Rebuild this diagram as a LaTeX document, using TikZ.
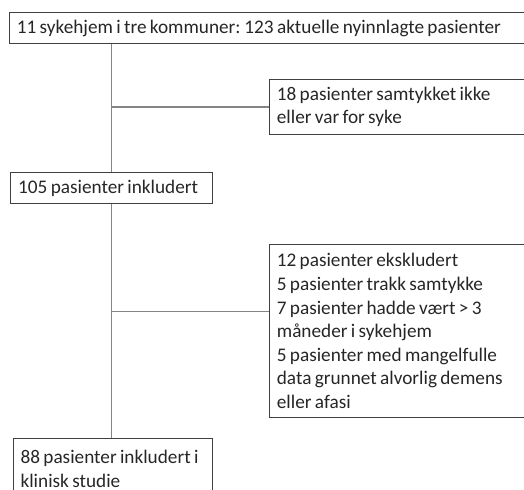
\documentclass[tikz,border=0pt]{standalone}
\usepackage{fontspec}
\setmainfont{Carlito}
\usepackage{xcolor}
\usepackage{tikz}
\usetikzlibrary{positioning}

\definecolor{boxline}{HTML}{404040}
\definecolor{linkline}{HTML}{858585}

\begin{document}
\begin{tikzpicture}[x=0.5714pt,y=-0.5714pt,
  flowbox/.style={draw=boxline,line width=0.6pt,anchor=north west,align=left,
    inner xsep=4.2pt,inner ysep=0pt,font=\fontsize{11}{13.5}\selectfont,text=black!85,
    execute at begin node={\spaceskip=1.9pt plus 0.5pt\relax\xspaceskip=2.2pt\relax\hyphenpenalty=10000\relax}},
  link/.style={draw=linkline,line width=0.6pt}]
\useasboundingbox (0,0) rectangle (524,489);
\node[flowbox,minimum width=297.7pt,minimum height=17.4pt,text width=289.3pt] (top) at (9,12.3)
  {11 sykehjem i tre kommuner: 123 aktuelle nyinnlagte pasienter};
\node[flowbox,minimum width=149pt,minimum height=31.4pt,text width=140.6pt] (skip) at (269,79)
  {18 pasienter samtykket ikke\\eller var for syke};
\node[flowbox,minimum width=115.4pt,minimum height=17.7pt,text width=107pt] (inc) at (10.3,172.3)
  {105 pasienter inkludert};
\node[flowbox,minimum width=149pt,minimum height=98.9pt,text width=140.6pt] (excl) at (269,244)
  {12 pasienter ekskludert\\5 pasienter trakk samtykke\\7 pasienter hadde vært > 3\\
   måneder i sykehjem\\5 pasienter med mangelfulle\\data grunnet alvorlig demens\\eller afasi};
\node[flowbox,minimum width=114pt,inner ysep=6.5pt,text depth=12pt,text width=105.6pt] (final) at (12.7,438.3)
  {88 pasienter inkludert i\\klinisk studie};
\draw[link] (top.south -| inc.north) -- (inc.north);
\draw[link] (skip.west -| inc.north) -- (skip.west);
\draw[link] (inc.south) -- (final.north -| inc.south);
\draw[link] ([yshift=-38.7pt]excl.north west) -| (inc.south);
\end{tikzpicture}
\end{document}
